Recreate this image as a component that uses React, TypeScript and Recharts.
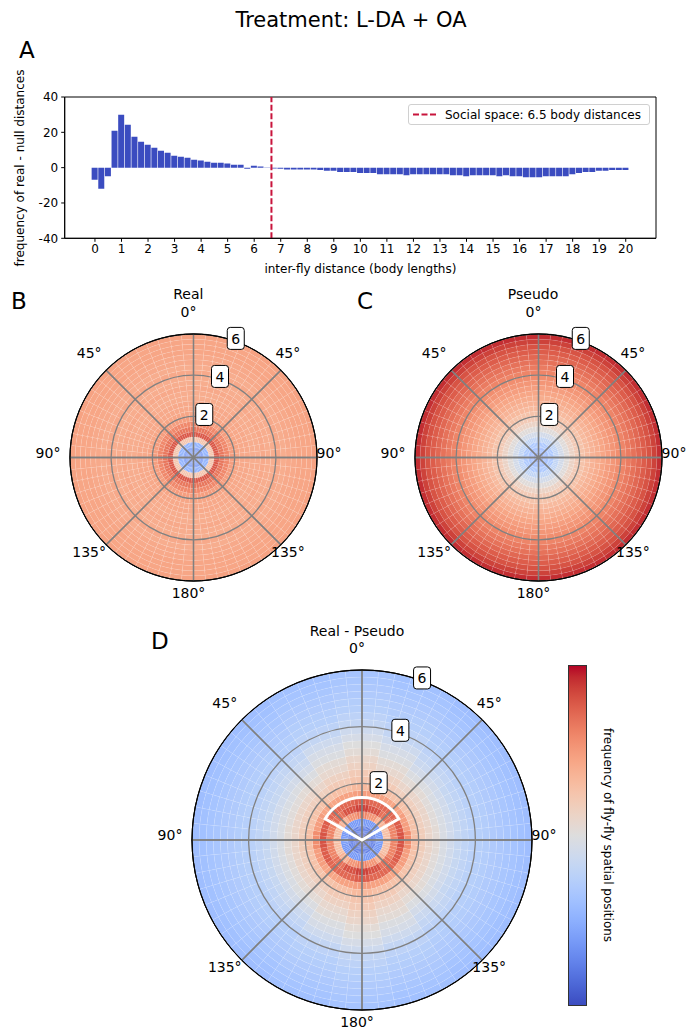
import React from 'react'
import { Bar, BarChart, Cell, Legend, Pie, PieChart, ReferenceArea, ReferenceLine, XAxis, YAxis } from 'recharts'

const FONT = '"DejaVu Sans", Verdana, sans-serif'

// panel A: real - null histogram, bins of 0.25 body lengths
const DIST = [
  0, 0.25, 0.5, 0.75, 1, 1.25, 1.5, 1.75, 2, 2.25, 2.5, 2.75, 3, 3.25, 3.5, 3.75, 4, 4.25, 4.5, 4.75,
  5, 5.25, 5.5, 5.75, 6, 6.25, 6.5, 6.75, 7, 7.25, 7.5, 7.75, 8, 8.25, 8.5, 8.75, 9, 9.25, 9.5, 9.75,
  10, 10.25, 10.5, 10.75, 11, 11.25, 11.5, 11.75, 12, 12.25, 12.5, 12.75, 13, 13.25, 13.5, 13.75, 14,
  14.25, 14.5, 14.75, 15, 15.25, 15.5, 15.75, 16, 16.25, 16.5, 16.75, 17, 17.25, 17.5, 17.75, 18,
  18.25, 18.5, 18.75, 19, 19.25, 19.5, 19.75, 20,
]
const DIFF = [
  -6.8, -11.9, -4.9, 20.9, 29.9, 24.3, 17.5, 14.7, 13.0, 11.3, 9.6, 8.5, 6.8, 6.2, 5.6, 4.5, 4.0, 3.4,
  2.8, 2.8, 2.3, 1.7, 1.7, -0.6, 1.1, 0.6, -0.2, -0.5, -0.6, -1.1, -1.1, -1.1, -1.1, -1.1, -1.3, -1.7,
  -1.7, -2.4, -2.4, -2.4, -3.0, -3.0, -3.0, -3.8, -3.8, -3.8, -3.8, -4.3, -3.8, -3.8, -3.8, -3.8, -3.8,
  -3.8, -4.3, -4.3, -4.9, -4.3, -4.3, -4.3, -4.3, -4.9, -4.3, -4.9, -4.9, -5.5, -5.5, -5.5, -4.9, -4.9,
  -4.9, -4.9, -3.8, -3.0, -2.4, -2.4, -1.7, -1.7, -1.3, -1.3, -1.3,
]
const X_TICKS = [0, 1, 2, 3, 4, 5, 6, 7, 8, 9, 10, 11, 12, 13, 14, 15, 16, 17, 18, 19, 20]
const Y_TICKS = [-40, -20, 0, 20, 40]
const SOCIAL_SPACE = 6.65

// polar heatmaps: rings of 0.25 body lengths out to 6, colour level 0..1 (coolwarm)
const RING_EDGES = [
  0, 0.25, 0.5, 0.75, 1, 1.25, 1.5, 1.75, 2, 2.25, 2.5, 2.75, 3, 3.25, 3.5, 3.75, 4, 4.25, 4.5, 4.75, 5,
  5.25, 5.5, 5.75, 6,
]
const REAL = [
  0.13, 0.17, 0.25, 0.62, 0.89, 0.83, 0.79, 0.74, 0.72, 0.71, 0.71, 0.7, 0.7, 0.71, 0.7, 0.7, 0.71, 0.7,
  0.71, 0.71, 0.72, 0.72, 0.72, 0.73,
]
const PSEUDO = [
  0.15, 0.26, 0.33, 0.4, 0.46, 0.51, 0.56, 0.6, 0.63, 0.66, 0.68, 0.7, 0.72, 0.74, 0.76, 0.78, 0.8,
  0.82, 0.84, 0.86, 0.88, 0.9, 0.93, 0.96,
]
// real - pseudo, one profile per direction: 0deg (front/back), 22.5, 45, 67.5, 90 (sides)
const DIFF_0 = [
  0.03, 0.1, 0.18, 0.8, 0.93, 0.88, 0.74, 0.66, 0.62, 0.6, 0.57, 0.55, 0.52, 0.5, 0.47, 0.44, 0.41,
  0.39, 0.37, 0.36, 0.35, 0.34, 0.33, 0.32,
]
const DIFF_22 = [
  0.03, 0.1, 0.18, 0.76, 0.9, 0.86, 0.73, 0.64, 0.6, 0.57, 0.54, 0.52, 0.49, 0.47, 0.44, 0.41, 0.39,
  0.37, 0.36, 0.35, 0.34, 0.33, 0.32, 0.31,
]
const DIFF_45 = [
  0.03, 0.1, 0.18, 0.68, 0.84, 0.86, 0.72, 0.63, 0.58, 0.55, 0.52, 0.49, 0.46, 0.43, 0.41, 0.39, 0.37,
  0.36, 0.35, 0.34, 0.33, 0.32, 0.31, 0.3,
]
const DIFF_67 = [
  0.03, 0.1, 0.18, 0.64, 0.8, 0.88, 0.74, 0.63, 0.58, 0.55, 0.51, 0.48, 0.45, 0.42, 0.4, 0.38, 0.37,
  0.36, 0.35, 0.34, 0.33, 0.32, 0.31, 0.3,
]
const DIFF_90 = [
  0.03, 0.1, 0.2, 0.64, 0.8, 0.9, 0.78, 0.64, 0.59, 0.55, 0.52, 0.48, 0.45, 0.42, 0.4, 0.38, 0.37, 0.36,
  0.35, 0.34, 0.33, 0.32, 0.31, 0.3,
]
const DIFF_DIRS = [DIFF_0, DIFF_22, DIFF_45, DIFF_67, DIFF_90]

const ANGLE_TICKS = [0, 45, 90, 135, 180, 225, 270, 315]
const ANGLE_LABELS = ['0°', '45°', '90°', '135°', '180°', '135°', '90°', '45°']
const RADIUS_TICKS = [2, 4, 6]
const GRID_CIRCLES = [2, 4]
const R_MAX = 6
const N_CELLS = 64

// matplotlib coolwarm
const COOLWARM = [
  [59, 76, 192], [68, 90, 204], [77, 104, 215], [87, 117, 225], [98, 130, 234], [108, 142, 241],
  [119, 154, 247], [130, 165, 251], [141, 176, 254], [152, 185, 255], [163, 194, 255], [174, 201, 253],
  [184, 208, 249], [194, 213, 244], [204, 217, 238], [213, 219, 230], [221, 221, 221], [229, 216, 209],
  [236, 211, 197], [241, 204, 184], [245, 196, 172], [247, 187, 159], [247, 177, 147], [247, 166, 134],
  [244, 154, 123], [241, 141, 111], [236, 127, 99], [229, 112, 89], [222, 96, 77], [213, 80, 66],
  [203, 62, 56], [192, 40, 47], [180, 4, 38],
]

function coolwarm(t: number) {
  const x = Math.min(1, Math.max(0, t)) * 32
  const i = Math.min(31, Math.floor(x))
  const f = x - i
  const a = COOLWARM[i]
  const b = COOLWARM[i + 1]
  const c = a.map((v, j) => Math.round(v + (b[j] - v) * f))
  return `rgb(${c[0]},${c[1]},${c[2]})`
}

const bars = DIST.map((x, i) => ({ x, diff: DIFF[i] }))

function diffLevel(ring: number, cell: number) {
  const a = ((cell + 0.5) * 360) / N_CELLS
  let s = Math.round(a / 22.5) % 16
  if (s > 8) s = 16 - s
  if (s > 4) s = 8 - s
  return DIFF_DIRS[s][ring]
}

function PolarPanel({
  R,
  level,
  wedge,
}: {
  R: number
  level: (ring: number, cell: number) => number
  wedge?: boolean
}) {
  const S = Math.round(2 * R + 80)
  const c = S / 2
  const rs = (r: number) => (r / R_MAX) * R
  const lab = R + 17
  const rad = (d: number) => (d * Math.PI) / 180
  const outline = { dataKey: 'v', cx: c, cy: c, startAngle: 90, endAngle: -270, fill: 'none', isAnimationActive: false, legendType: 'none' as const }
  return (
    <div style={{ position: 'relative', width: S, height: S }}>
      <PieChart width={S} height={S}>
        {RING_EDGES.slice(0, -1).map((r0, i) => {
          const data = Array.from({ length: N_CELLS }, (_, k) => ({ v: 1, level: level(i, k) }))
          return (
            <Pie
              key={i}
              data={data}
              dataKey="v"
              cx={c}
              cy={c}
              innerRadius={rs(r0)}
              outerRadius={rs(RING_EDGES[i + 1])}
              startAngle={90}
              endAngle={-270}
              stroke="rgba(255,255,255,0.14)"
              strokeWidth={0.5}
              isAnimationActive={false}
              legendType="none"
            >
              {data.map((d, k) => (
                <Cell key={k} fill={coolwarm(d.level)} />
              ))}
            </Pie>
          )
        })}
        {/* spokes every 45 degrees */}
        <Pie
          {...outline}
          data={ANGLE_TICKS.map(() => ({ v: 1 }))}
          innerRadius={0}
          outerRadius={R}
          stroke="#808080"
          strokeWidth={1.3}
        />
        {GRID_CIRCLES.map((r) => (
          <Pie key={r} {...outline} data={[{ v: 1 }]} innerRadius={rs(r)} outerRadius={rs(r)} stroke="#808080" strokeWidth={1.3} />
        ))}
        <Pie {...outline} data={[{ v: 1 }]} innerRadius={R} outerRadius={R} stroke="#000" strokeWidth={1} />
        {wedge && (
          <Pie
            {...outline}
            data={[{ v: 1 }]}
            innerRadius={0}
            outerRadius={rs(1.5)}
            startAngle={150}
            endAngle={30}
            stroke="#fff"
            strokeWidth={3}
          />
        )}
      </PieChart>
      <svg width={S} height={S} style={{ position: 'absolute', left: 0, top: 0 }}>
        {ANGLE_TICKS.map((a, i) => (
          <text
            key={a}
            x={c + lab * Math.sin(rad(a))}
            y={c - lab * Math.cos(rad(a))}
            textAnchor="middle"
            dominantBaseline="central"
            fontSize={14}
            fontFamily={FONT}
            fill="#000"
          >
            {ANGLE_LABELS[i]}
          </text>
        ))}
        {RADIUS_TICKS.map((r) => {
          const x = c + rs(r) * Math.sin(rad(22.5))
          const y = c - rs(r) * Math.cos(rad(22.5))
          return (
            <g key={r}>
              <rect x={x - 8.5} y={y - 11} width={17} height={22} rx={3} fill="#fff" stroke="#000" strokeWidth={1} />
              <text x={x} y={y + 0.5} textAnchor="middle" dominantBaseline="central" fontSize={14} fontFamily={FONT} fill="#000">
                {r}
              </text>
            </g>
          )
        })}
      </svg>
    </div>
  )
}

const abs = (left: number, top: number): React.CSSProperties => ({ position: 'absolute', left, top })

function Letter({ x, y, t }: { x: number; y: number; t: string }) {
  return <div style={{ ...abs(x, y), fontSize: 23, lineHeight: '23px' }}>{t}</div>
}

function Title({ cx, cy, t, size = 14 }: { cx: number; cy: number; t: string; size?: number }) {
  const lh = size + 2
  return (
    <div style={{ ...abs(cx - 150, cy - lh / 2), width: 300, textAlign: 'center', fontSize: size, lineHeight: `${lh}px` }}>
      {t}
    </div>
  )
}

export default function App() {
  const tick = { fill: '#000', fontSize: 12, fontFamily: FONT }
  const gradient = COOLWARM.map((c, i) => `rgb(${c[0]},${c[1]},${c[2]}) ${(i / 32) * 100}%`).join(', ')
  return (
    <div
      style={{
        position: 'absolute',
        left: 0,
        top: 0,
        width: 689,
        height: 1030,
        overflow: 'hidden',
        background: '#fff',
        fontFamily: FONT,
        color: '#000',
      }}
    >
      <Title cx={351} cy={20} t="Treatment: L-DA + OA" size={21} />
      <Letter x={19} y={39} t="A" />
      <Letter x={11} y={290} t="B" />
      <Letter x={357} y={290} t="C" />
      <Letter x={151} y={630} t="D" />

      <div style={abs(0, 80)}>
        <BarChart width={689} height={220} data={bars} margin={{ top: 17, right: 33, left: 0, bottom: 31.7 }}>
          <XAxis
            dataKey="x"
            type="number"
            domain={[-1.14, 21.14]}
            ticks={X_TICKS}
            interval={0}
            allowDataOverflow
            tickSize={3.5}
            tickMargin={3}
            tick={tick}
            stroke="#000"
            height={30}
          />
          <YAxis
            type="number"
            domain={[-40, 40]}
            ticks={Y_TICKS}
            interval={0}
            width={64.7}
            tickSize={3.5}
            tickMargin={3}
            tick={tick}
            stroke="#000"
          />
          <ReferenceArea x1={-1.14} x2={21.14} y1={-40} y2={40} fill="none" stroke="#000" strokeWidth={1} ifOverflow="visible" />
          <Bar dataKey="diff" fill="#3b4cc0" barSize={6} isAnimationActive={false} />
          <ReferenceLine x={SOCIAL_SPACE} stroke="#c8143c" strokeWidth={2} strokeDasharray="6 2.5" />
          <Legend
            layout="vertical"
            align="center"
            verticalAlign="middle"
            wrapperStyle={{ position: 'absolute', left: 408, top: 24, width: 242, height: 21 }}
            content={() => (
              <div
                style={{
                  width: 240,
                  height: 19,
                  border: '1px solid #d0d0d0',
                  borderRadius: 3,
                  background: 'rgba(255,255,255,0.8)',
                  display: 'flex',
                  alignItems: 'center',
                  fontSize: 12,
                  fontFamily: FONT,
                }}
              >
                <svg width={36} height={19}>
                  <line x1={4} x2={28} y1={9.5} y2={9.5} stroke="#c8143c" strokeWidth={2} strokeDasharray="6 2.5" />
                </svg>
                <span>Social space: 6.5 body distances</span>
              </div>
            )}
          />
        </BarChart>
      </div>
      <div
        style={{
          ...abs(20 - 120, 167.6 - 8),
          width: 240,
          textAlign: 'center',
          fontSize: 12,
          lineHeight: '16px',
          transform: 'rotate(-90deg)',
        }}
      >
        frequency of real - null distances
      </div>
      <Title cx={360.4} cy={269} t="inter-fly distance (body lengths)" size={12} />

      <Title cx={188.3} cy={294} t="Real" />
      <Title cx={533} cy={294} t="Pseudo" />
      <Title cx={357} cy={631} t="Real - Pseudo" />

      <div style={abs(188.3 - 163.5, 452 - 163.5)}>
        <PolarPanel R={123.5} level={(i) => REAL[i]} />
      </div>
      <div style={abs(533 - 163.5, 452 - 163.5)}>
        <PolarPanel R={123.5} level={(i) => PSEUDO[i]} />
      </div>
      <div style={abs(357 - 210, 835 - 210)}>
        <PolarPanel R={170} level={diffLevel} wedge />
      </div>

      <div
        style={{
          ...abs(567.7, 665),
          width: 17,
          height: 339,
          border: '0.8px solid #333',
          background: `linear-gradient(to top, ${gradient})`,
        }}
      />
      <div
        style={{
          ...abs(608 - 150, 835 - 8),
          width: 300,
          textAlign: 'center',
          fontSize: 12,
          lineHeight: '16px',
          transform: 'rotate(90deg)',
        }}
      >
        frequency of fly-fly spatial positions
      </div>
    </div>
  )
}
